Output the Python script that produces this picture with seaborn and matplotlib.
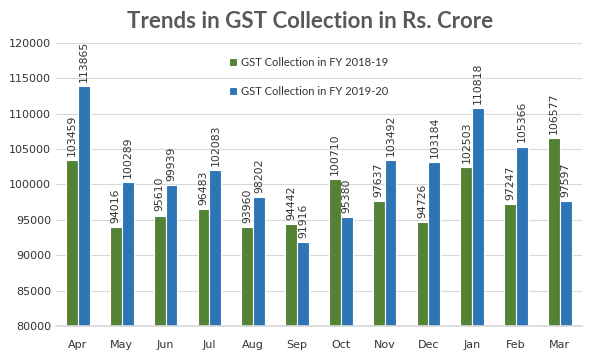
import pandas as pd
import seaborn as sns
import matplotlib.pyplot as plt

months = ["Apr", "May", "Jun", "Jul", "Aug", "Sep", "Oct", "Nov", "Dec", "Jan", "Feb", "Mar"]
fy_2018_19 = [103459, 94016, 95610, 96483, 93960, 94442, 100710, 97637, 94726, 102503, 97247, 106577]
fy_2019_20 = [113865, 100289, 99939, 102083, 98202, 91916, 95380, 103492, 103184, 110818, 105366, 97597]
series_names = ["GST Collection in FY 2018-19", "GST Collection in FY 2019-20"]

df = pd.DataFrame({
    "month": months * 2,
    "value": fy_2018_19 + fy_2019_20,
    "series": [series_names[0]] * 12 + [series_names[1]] * 12,
})

sns.set_theme(style="white")
plt.rcParams["font.family"] = ["DejaVu Sans"]

fig = plt.figure(figsize=(5.9, 3.61), dpi=100)
ax = fig.add_axes([0.095, 0.097, 0.891, 0.784])

sns.barplot(data=df, x="month", y="value", hue="series", order=months,
            palette=["#548235", "#2E75B6"], width=0.54, ax=ax,
            edgecolor="white", linewidth=0.8, saturation=1)

# value labels above each bar
for cont in ax.containers:
    ax.bar_label(cont, fmt="%d", rotation=90, padding=3, fontsize=7.8, color="#333333")

ax.set_ylim(80000, 120000)
ax.set_yticks(range(80000, 120001, 5000))
ax.yaxis.grid(True, color="#D9D9D9", linewidth=0.8)
ax.set_axisbelow(True)
ax.set_xlabel("")
ax.set_ylabel("")
ax.tick_params(axis="both", labelsize=8, colors="#333333", length=0)
ax.tick_params(axis="x", pad=10)
for s in ax.spines.values():
    s.set_visible(False)
ax.spines["bottom"].set_visible(True)
ax.spines["bottom"].set_color("#D9D9D9")

leg = ax.legend(loc="upper left", bbox_to_anchor=(0.31, 0.985), frameon=False,
                fontsize=8, labelspacing=1.6, handlelength=0.7, handleheight=0.7,
                handletextpad=0.4)
for t in leg.get_texts():
    t.set_color("#333333")
    t.set_family("Lato")

fig.text(0.525, 0.94, "Trends in GST Collection in Rs. Crore", ha="center", va="center",
         fontsize=16, fontweight="bold", color="#595959", family="Lato")

fig.savefig("out.png", dpi=100)
